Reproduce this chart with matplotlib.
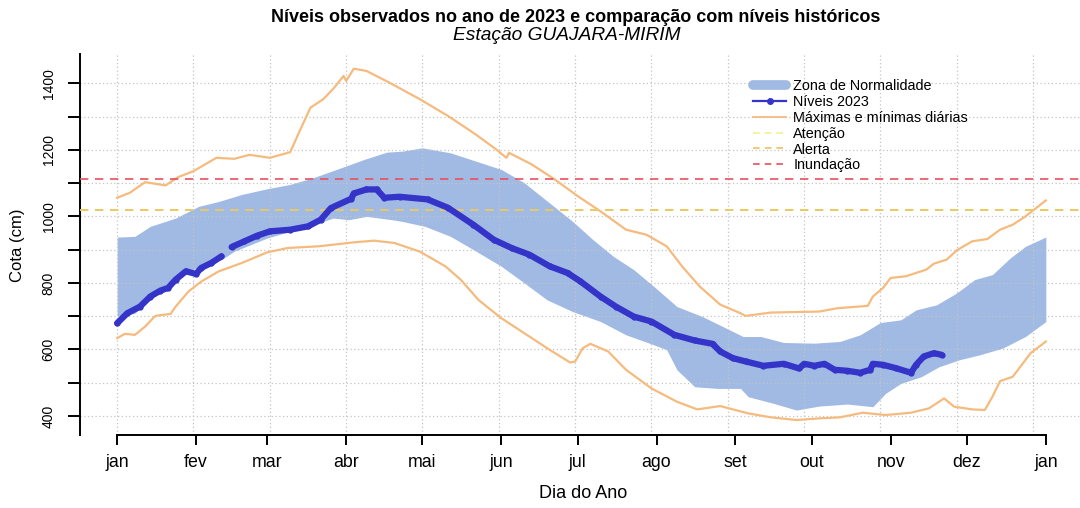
import numpy as np
import matplotlib
matplotlib.use('Agg')
import matplotlib.pyplot as plt
from matplotlib.lines import Line2D

plt.rcParams['font.family'] = ['Liberation Sans', 'DejaVu Sans']

# dia do ano (1 = 1 jan) e cota em cm
max_dia = [1, 6, 12, 16, 20, 25, 31, 40, 47, 53, 61, 69, 73, 77, 82, 86, 90, 91, 94, 99,
           108, 120, 131, 142, 150, 154, 155, 164, 173, 182, 191, 201, 209, 217, 223, 230,
           238, 246, 248, 258, 277, 284, 296, 298, 302, 305, 311, 319, 322, 327, 331, 337,
           343, 348, 353, 358, 366]
max_cota = [1056, 1071, 1103, 1098, 1093, 1118, 1136, 1176, 1173, 1185, 1176, 1193, 1261, 1327,
            1352, 1384, 1422, 1407, 1444, 1437, 1402, 1352, 1302, 1246, 1201, 1176, 1191, 1156,
            1111, 1061, 1015, 960, 945, 910, 850, 789, 735, 709, 701, 711, 714, 724, 731, 759,
            785, 815, 820, 840, 858, 870, 898, 925, 932, 960, 975, 1000, 1048]

min_dia = [1, 4, 8, 12, 16, 22, 24, 29, 34, 41, 50, 60, 68, 80, 86, 94, 102, 110, 120, 130,
           136, 143, 152, 161, 171, 179, 181, 184, 187, 194, 201, 211, 221, 229, 238, 249,
           258, 268, 277, 285, 294, 303, 313, 320, 326, 330, 337, 342, 345, 348, 353, 360, 366]
min_cota = [634, 647, 644, 669, 701, 707, 729, 774, 804, 835, 860, 892, 905, 910, 915, 922,
            927, 920, 894, 850, 810, 749, 694, 649, 599, 561, 564, 604, 617, 594, 539, 483,
            443, 420, 430, 408, 396, 388, 393, 396, 410, 403, 410, 423, 453, 428, 420, 418,
            458, 505, 518, 589, 624]

sup_dia = [1, 2, 8, 14, 24, 33, 41, 50, 60, 69, 78, 89, 98, 107, 113, 121, 132, 142, 152, 161,
           171, 180, 188, 196, 204, 212, 221, 231, 239, 247, 254, 263, 275, 285, 293, 301, 309,
           315, 323, 331, 338, 345, 352, 358, 366]
sup_cota = [938, 938, 940, 970, 995, 1030, 1045, 1066, 1083, 1096, 1116, 1146, 1171, 1193, 1196,
            1206, 1191, 1166, 1141, 1101, 1040, 985, 930, 880, 840, 789, 729, 699, 669, 639,
            639, 621, 619, 624, 644, 681, 689, 719, 734, 770, 810, 825, 875, 910, 938]

inf_dia = [1, 8, 14, 21, 29, 34, 42, 47, 60, 69, 78, 86, 92, 99, 109, 113, 122, 132, 141, 152,
           161, 170, 180, 191, 201, 212, 217, 221, 228, 237, 246, 249, 259, 268, 277, 288, 298,
           303, 309, 317, 324, 332, 340, 349, 358, 366]
inf_cota = [700, 709, 754, 800, 835, 850, 870, 895, 935, 955, 975, 995, 990, 1000, 990, 985, 970,
            940, 900, 850, 800, 749, 714, 684, 644, 614, 599, 539, 488, 483, 483, 458, 438, 418,
            430, 436, 428, 468, 498, 518, 548, 569, 584, 604, 639, 684]

niv_dia = [1, 5, 10, 14, 18, 21, 24, 28, 32, 34, 38, 42, 44, 46, 51, 56, 61, 69, 76, 81, 85,
           93, 94, 99, 103, 106, 112, 123, 131, 141, 149, 156, 163, 171, 178, 183, 191, 197,
           204, 211, 220, 228, 235, 238, 243, 248, 255, 263, 269, 271, 275, 279, 283, 288,
           293, 297, 298, 302, 307, 313, 315, 318, 322, 325]
niv_cota = [679, 709, 729, 759, 777, 785, 810, 835, 827, 845, 860, 880, np.nan, 908, 925, 942,
            955, 960, 970, 990, 1025, 1053, 1069, 1081, 1081, 1056, 1059, 1051, 1026, 975, 930,
            905, 885, 850, 830, 805, 759, 729, 699, 684, 644, 627, 617, 594, 574, 564, 551,
            557, 543, 557, 551, 557, 539, 536, 530, 539, 557, 554, 544, 530, 554, 579, 589, 584]

cota_atencao = 1020
cota_alerta = 1020
cota_inundacao = 1111

meses = ['jan', 'fev', 'mar', 'abr', 'mai', 'jun', 'jul', 'ago', 'set', 'out', 'nov', 'dez', 'jan']
inicio_mes = [1, 32, 60, 91, 121, 152, 182, 213, 244, 274, 305, 335, 366]
y_ticks = list(range(400, 1401, 100))
y_labels = [str(v) if v % 200 == 0 else '' for v in y_ticks]

# band on common grid of days
dias = np.arange(1, 367)
sup = np.interp(dias, sup_dia, sup_cota)
inf = np.interp(dias, inf_dia, inf_cota)

c_band = '#a0bae4'
c_niv = '#3434c8'
c_mm = '#f5bb7e'
c_aten = '#f4f08a'
c_alert = '#e8c35c'
c_inund = '#e8505f'

fig = plt.figure(figsize=(10.8, 5.08), dpi=100)
ax = fig.add_axes([80 / 1080, 1 - 435 / 508, 1003 / 1080, 381 / 508])
ax.set_xlim(-13.6, 380.6)
ax.set_ylim(343, 1488)

ax.fill_between(dias, inf, sup, color=c_band, lw=0, zorder=1)

for v in range(1, 362, 30):
    ax.axvline(v, color='#c4c4c4', ls=(0, (1, 2)), lw=0.9, zorder=2)
for v in y_ticks:
    ax.axhline(v, color='#c4c4c4', ls=(0, (1, 2)), lw=0.9, zorder=2)

ax.plot(max_dia, max_cota, color=c_mm, lw=1.6, zorder=3)
ax.plot(min_dia, min_cota, color=c_mm, lw=1.6, zorder=3)
ax.axhline(cota_atencao, color=c_aten, ls=(0, (5, 4)), lw=1.2, zorder=3)
ax.axhline(cota_alerta, color=c_alert, ls=(0, (5, 4)), lw=1.2, zorder=3)
ax.axhline(cota_inundacao, color=c_inund, ls=(0, (5, 4)), lw=1.2, zorder=3)
ax.plot(niv_dia, niv_cota, color=c_niv, lw=4.5, marker='o', ms=3.5, zorder=4,
        solid_capstyle='round', solid_joinstyle='round')

for s in ['top', 'right']:
    ax.spines[s].set_visible(False)
ax.spines['bottom'].set_bounds(1, 366)
ax.spines['bottom'].set_linewidth(1.4)
ax.spines['left'].set_linewidth(1.4)

ax.set_xticks(inicio_mes)
ax.set_xticklabels(meses, fontsize=12.8)
ax.tick_params(axis='x', length=7, width=1.4, pad=7)
ax.set_yticks(y_ticks)
ax.set_yticklabels(y_labels, fontsize=10, rotation=90, va='center')
ax.tick_params(axis='y', length=8.5, width=1.4, pad=9)

fig.text(18 / 1080, 1 - 245 / 508, 'Cota (cm)', rotation=90, ha='center', va='center', fontsize=12)
fig.text(583 / 1080, 1 - 494 / 508, 'Dia do Ano', ha='center', va='center', fontsize=13)
fig.text(576 / 1080, 1 - 17 / 508, 'Níveis observados no ano de 2023 e comparação com níveis históricos',
         ha='center', va='center', fontsize=13, fontweight='bold')
fig.text(567 / 1080, 1 - 35 / 508, 'Estação GUAJARA-MIRIM', ha='center', va='center',
         fontsize=13.8, style='italic')

handles = [
    Line2D([], [], color=c_band, lw=7, solid_capstyle='round'),
    Line2D([], [], color=c_niv, lw=1.6, marker='o', ms=4),
    Line2D([], [], color=c_mm, lw=1.3),
    Line2D([], [], color=c_aten, lw=1.2, ls=(0, (4, 3))),
    Line2D([], [], color=c_alert, lw=1.2, ls=(0, (4, 3))),
    Line2D([], [], color=c_inund, lw=1.2, ls=(0, (4, 3))),
]
labels = ['Zona de Normalidade', 'Níveis 2023', 'Máximas e mínimas diárias',
          'Atenção', 'Alerta', 'Inundação']
ax.legend(handles, labels, loc='upper left', bbox_to_anchor=(753 / 1080, 1 - 79 / 508),
          bbox_transform=fig.transFigure, frameon=False, fontsize=10.4, handlelength=2.3,
          labelspacing=0.13, handletextpad=0.5, borderaxespad=0, borderpad=0)

fig.savefig('out.png', dpi=100)
